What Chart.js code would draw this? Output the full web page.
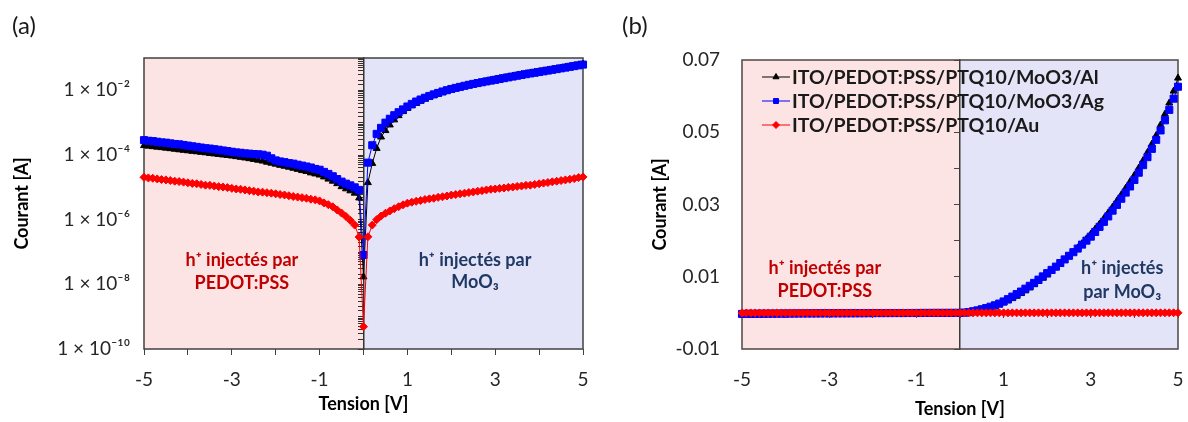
<!DOCTYPE html>
<html>
<head>
<meta charset="utf-8">
<script src="https://cdn.jsdelivr.net/npm/chart.js@4.4.1/dist/chart.umd.min.js"></script>
<style>
  html, body { margin: 0; padding: 0; background: #fff; }
  #wrap { position: relative; width: 1188px; height: 422px; }
  .panel { position: absolute; top: 0; width: 594px; height: 422px; }
  #pa { left: 0; }
  #pb { left: 594px; }
  .tag { position: absolute; top: 13px; font: 24px Lato, "Noto Sans", sans-serif; line-height: 24px; color: #1a1a1a; }
</style>
</head>
<body>
<div id="wrap">
  <div class="panel" id="pa"><canvas id="chartA"></canvas></div>
  <div class="panel" id="pb"><canvas id="chartB"></canvas></div>
  <div class="tag" style="left:12px">(a)</div>
  <div class="tag" style="left:622px">(b)</div>
</div>
<script>
// tension (V), 0.1 V steps
const tension = [
  -5, -4.9, -4.8, -4.7, -4.6, -4.5, -4.4, -4.3, -4.2, -4.1,
  -4, -3.9, -3.8, -3.7, -3.6, -3.5, -3.4, -3.3, -3.2, -3.1,
  -3, -2.9, -2.8, -2.7, -2.6, -2.5, -2.4, -2.3, -2.2, -2.1,
  -2, -1.9, -1.8, -1.7, -1.6, -1.5, -1.4, -1.3, -1.2, -1.1,
  -1, -0.9, -0.8, -0.7, -0.6, -0.5, -0.4, -0.3, -0.2, -0.1,
  0,
  0.1, 0.2, 0.3, 0.4, 0.5, 0.6, 0.7, 0.8, 0.9, 1,
  1.1, 1.2, 1.3, 1.4, 1.5, 1.6, 1.7, 1.8, 1.9, 2,
  2.1, 2.2, 2.3, 2.4, 2.5, 2.6, 2.7, 2.8, 2.9, 3,
  3.1, 3.2, 3.3, 3.4, 3.5, 3.6, 3.7, 3.8, 3.9, 4,
  4.1, 4.2, 4.3, 4.4, 4.5, 4.6, 4.7, 4.8, 4.9, 5
];

// current (A) – ITO/PEDOT:PSS/PTQ10/MoO3/Al
const courantAl = [
  -1.95e-4, -1.88e-4, -1.81e-4, -1.75e-4, -1.69e-4, -1.63e-4, -1.57e-4, -1.51e-4, -1.45e-4, -1.40e-4,
  -1.35e-4, -1.30e-4, -1.26e-4, -1.21e-4, -1.17e-4, -1.12e-4, -1.08e-4, -1.04e-4, -1.00e-4, -9.7e-5,
  -9.3e-5, -8.9e-5, -8.5e-5, -8.1e-5, -7.7e-5, -7.3e-5, -6.9e-5, -6.5e-5, -6.0e-5, -5.6e-5,
  -5.2e-5, -4.8e-5, -4.5e-5, -4.2e-5, -3.9e-5, -3.6e-5, -3.3e-5, -3.1e-5, -2.8e-5, -2.6e-5,
  -2.4e-5, -2.1e-5, -1.8e-5, -1.55e-5, -1.3e-5, -1.05e-5, -9.0e-6, -7.8e-6, -6.6e-6, -4.7e-6,
  1.7e-8,
  1.4e-5, 5.5e-5, 1.6e-4, 3.6e-4, 5.7e-4, 8.5e-4, 1.22e-3, 1.65e-3, 2.2e-3, 2.75e-3,
  3.3e-3, 3.95e-3, 4.6e-3, 5.35e-3, 6.1e-3, 6.9e-3, 7.8e-3, 8.7e-3, 9.6e-3, 0.0105,
  0.0115, 0.0125, 0.0135, 0.0146, 0.0157, 0.0168, 0.0180, 0.0192, 0.0205, 0.0218,
  0.0232, 0.0246, 0.0261, 0.0277, 0.0293, 0.0310, 0.0327, 0.0345, 0.0363, 0.0381,
  0.0401, 0.0422, 0.0444, 0.0467, 0.0491, 0.0520, 0.0550, 0.0581, 0.0614, 0.0650
];

// current (A) – ITO/PEDOT:PSS/PTQ10/MoO3/Ag
const courantAg = [
  -2.88e-4, -2.75e-4, -2.69e-4, -2.57e-4, -2.45e-4, -2.40e-4, -2.29e-4, -2.19e-4, -2.14e-4, -2.04e-4,
  -1.95e-4, -1.86e-4, -1.78e-4, -1.70e-4, -1.62e-4, -1.58e-4, -1.51e-4, -1.45e-4, -1.38e-4, -1.32e-4,
  -1.26e-4, -1.20e-4, -1.17e-4, -1.12e-4, -1.10e-4, -1.07e-4, -1.05e-4, -1.02e-4, -9.5e-5, -7.9e-5,
  -6.8e-5, -6.3e-5, -6.0e-5, -5.6e-5, -5.4e-5, -5.0e-5, -4.7e-5, -4.4e-5, -4.1e-5, -3.7e-5,
  -3.5e-5, -3.0e-5, -2.6e-5, -2.2e-5, -1.8e-5, -1.5e-5, -1.3e-5, -1.15e-5, -1.0e-5, -8.3e-6,
  8.1e-8,
  5.8e-5, 2.0e-4, 4.5e-4, 6.9e-4, 1.0e-3, 1.32e-3, 1.7e-3, 2.1e-3, 2.57e-3, 3.16e-3,
  3.8e-3, 4.5e-3, 5.2e-3, 5.9e-3, 6.7e-3, 7.5e-3, 8.3e-3, 9.2e-3, 0.0101, 0.0110,
  0.0119, 0.0128, 0.0138, 0.0148, 0.0158, 0.0168, 0.0178, 0.0189, 0.0200, 0.0211,
  0.0224, 0.0238, 0.0252, 0.0267, 0.0283, 0.0299, 0.0316, 0.0333, 0.0350, 0.0368,
  0.0388, 0.0409, 0.0431, 0.0454, 0.0479, 0.0505, 0.0533, 0.0562, 0.0593, 0.0626
];

// current (A) – ITO/PEDOT:PSS/PTQ10/Au
const courantAu = [
  -2.04e-5, -1.95e-5, -1.91e-5, -1.82e-5, -1.74e-5, -1.70e-5, -1.62e-5, -1.55e-5, -1.51e-5, -1.45e-5,
  -1.38e-5, -1.32e-5, -1.29e-5, -1.23e-5, -1.17e-5, -1.15e-5, -1.10e-5, -1.05e-5, -1.02e-5, -9.8e-6,
  -9.3e-6, -8.9e-6, -8.7e-6, -8.3e-6, -7.9e-6, -7.6e-6, -7.2e-6, -7.1e-6, -6.8e-6, -6.6e-6,
  -6.3e-6, -6.0e-6, -5.8e-6, -5.5e-6, -5.2e-6, -5.0e-6, -4.8e-6, -4.6e-6, -4.3e-6, -4.1e-6,
  -3.8e-6, -3.3e-6, -2.9e-6, -2.5e-6, -2.0e-6, -1.6e-6, -1.26e-6, -9.5e-7, -6.8e-7, -2.9e-7,
  4.9e-10,
  2.95e-7, 6.8e-7, 1.0e-6, 1.29e-6, 1.58e-6, 1.86e-6, 2.19e-6, 2.51e-6, 2.88e-6, 3.24e-6,
  3.47e-6, 3.7e-6, 3.9e-6, 4.2e-6, 4.4e-6, 4.6e-6, 4.9e-6, 5.1e-6, 5.4e-6, 5.75e-6,
  6.0e-6, 6.3e-6, 6.6e-6, 6.9e-6, 7.2e-6, 7.6e-6, 7.9e-6, 8.3e-6, 8.7e-6, 8.9e-6,
  9.3e-6, 9.5e-6, 1.0e-5, 1.02e-5, 1.07e-5, 1.10e-5, 1.15e-5, 1.17e-5, 1.23e-5, 1.29e-5,
  1.35e-5, 1.41e-5, 1.48e-5, 1.55e-5, 1.62e-5, 1.70e-5, 1.78e-5, 1.86e-5, 2.0e-5, 2.1e-5
];

const seriesLabels = ['ITO/PEDOT:PSS/PTQ10/MoO3/Al', 'ITO/PEDOT:PSS/PTQ10/MoO3/Ag', 'ITO/PEDOT:PSS/PTQ10/Au'];

// tick labels
const voltTicks = [-5, -3, -1, 1, 3, 5];
const voltTickLabels = ['-5', '-3', '-1', '1', '3', '5'];
const logTicks = [1e-10, 1e-8, 1e-6, 1e-4, 1e-2];
const logTickLabels = ['1 × 10⁻¹⁰', '1 × 10⁻⁸', '1 × 10⁻⁶', '1 × 10⁻⁴', '1 × 10⁻²'];
const linTicks = [-0.01, 0.01, 0.03, 0.05, 0.07];
const linTickLabels = ['-0.01', '0.01', '0.03', '0.05', '0.07'];

// region notes
const notePedot = ['h⁺ injectés par', 'PEDOT:PSS'];
const noteMoO3A = ['h⁺ injectés par', 'MoO₃'];
const noteMoO3B = ['h⁺ injectés', 'par MoO₃'];

// ---- styling ----
const FONT = 'Lato, "Noto Sans", sans-serif';
Chart.defaults.font.family = FONT;
const TICK = '#262626';
const RED_TXT = '#c00000';
const BLUE_TXT = '#1f3864';
const PINK = '#fce4e4';
const LAVENDER = '#e4e4f8';
const colors = ['#000000', '#0000ff', '#ff0000'];
const markers = ['triangle', 'rect', 'rectRot'];
const radii = [4, 5, 4];
const drawOrder = [3, 2, 1];
const currents = [courantAl, courantAg, courantAu];

function makeDatasets(fn) {
  return currents.map((c, i) => ({
    label: seriesLabels[i],
    data: tension.map((v, k) => ({x: v, y: fn(c[k])})),
    borderColor: colors[i],
    backgroundColor: colors[i],
    borderWidth: 1,
    pointStyle: markers[i],
    pointRadius: radii[i],
    pointBorderWidth: 1,
    order: drawOrder[i],
    clip: false,
    xAxisID: 'x',
    yAxisID: 'y'
  }));
}

const decor = {
  id: 'decor',
  beforeDraw(chart, args, opts) {
    const {ctx, chartArea: a, scales} = chart;
    const x0 = scales.x.getPixelForValue(0);
    ctx.save();
    ctx.fillStyle = PINK;
    ctx.fillRect(a.left, a.top, x0 - a.left, a.bottom - a.top);
    ctx.fillStyle = LAVENDER;
    ctx.fillRect(x0, a.top, a.right - x0, a.bottom - a.top);
    ctx.restore();
  },
  beforeDatasetsDraw(chart, args, opts) {
    const {ctx, chartArea: a} = chart;
    ctx.save();
    ctx.strokeStyle = opts.frame;
    ctx.lineWidth = 1.5;
    ctx.strokeRect(a.left, a.top, a.right - a.left, a.bottom - a.top);
    ctx.restore();
  },
  afterDraw(chart, args, opts) {
    const {ctx, chartArea: a, scales} = chart;
    ctx.save();
    ctx.font = 'bold 18px ' + FONT;
    ctx.textAlign = 'center';
    ctx.textBaseline = 'middle';
    (opts.notes || []).forEach(n => {
      ctx.fillStyle = n.color;
      const px = scales.x.getPixelForValue(n.x);
      n.lines.forEach((t, j) => ctx.fillText(t, px, scales.y.getPixelForValue(n.y[j])));
    });
    if (opts.legend) {
      ctx.font = 'bold 19.5px ' + FONT;
      ctx.textAlign = 'left';
      chart.data.datasets.forEach((ds, i) => {
        const yy = a.top + 17 + i * 24;
        ctx.strokeStyle = ds.borderColor;
        ctx.lineWidth = 1;
        ctx.beginPath();
        ctx.moveTo(a.left + 20, yy);
        ctx.lineTo(a.left + 48, yy);
        ctx.stroke();
        ctx.fillStyle = ds.backgroundColor;
        Chart.helpers.drawPoint(ctx, {pointStyle: ds.pointStyle, radius: 3.5, borderWidth: 1, rotation: 0}, a.left + 34, yy);
        ctx.fillStyle = '#1a1a1a';
        ctx.fillText(ds.label, a.left + 50, yy + 1);
      });
    }
    ctx.restore();
  }
};

const titleFont = {size: 18, weight: 'bold'};
const tickFont = {size: 19};

// ---- (a) log scale ----
new Chart(document.getElementById('chartA'), {
  type: 'line',
  data: {datasets: makeDatasets(v => Math.abs(v))},
  plugins: [decor],
  options: {
    responsive: true,
    maintainAspectRatio: false,
    animation: false,
    layout: {padding: {top: 58, right: 11, left: 0, bottom: 0}},
    plugins: {
      legend: {display: false},
      tooltip: {enabled: false},
      decor: {
        frame: '#404040',
        notes: [
          {x: -2.77, y: [5.6e-8, 1.1e-8], lines: notePedot, color: RED_TXT},
          {x: 2.54, y: [5.6e-8, 1.15e-8], lines: noteMoO3A, color: BLUE_TXT}
        ]
      }
    },
    scales: {
      x: {
        type: 'linear', min: -5, max: 5, position: 'bottom',
        afterFit: s => { s.height = 73; },
        ticks: {
          stepSize: 1, autoSkip: false, maxRotation: 0, padding: 0, color: TICK,
          font: {size: 19, lineHeight: 2.63},
          callback: v => { const i = voltTicks.indexOf(v); return i >= 0 ? voltTickLabels[i] : ''; }
        },
        grid: {drawOnChartArea: false, drawTicks: true, tickLength: 6, color: '#404040'},
        border: {display: false},
        title: {display: true, text: 'Tension [V]', color: '#000', font: titleFont, padding: {top: 0, bottom: 7}}
      },
      y: {
        type: 'logarithmic', min: 1e-10, max: 1e-1, position: 'left',
        afterFit: s => { s.width = 144; },
        afterBuildTicks: s => { s.ticks = logTicks.map(v => ({value: v})); },
        ticks: {
          autoSkip: false, padding: 14, color: TICK, font: tickFont,
          callback: v => { const i = logTicks.indexOf(v); return i >= 0 ? logTickLabels[i] : ''; }
        },
        grid: {display: false, drawTicks: false},
        border: {display: false},
        title: {display: true, text: 'Courant [A]', color: '#000', font: titleFont, padding: {top: 11, bottom: 0}}
      },
      yMid: {
        axis: 'y', type: 'logarithmic', min: 1e-10, max: 1e-1, position: {x: 0},
        ticks: {display: false},
        grid: {drawOnChartArea: false, drawTicks: true, tickLength: 5, color: '#333333'},
        border: {display: true, color: '#333333', width: 1.5}
      }
    }
  }
});

// ---- (b) linear scale ----
new Chart(document.getElementById('chartB'), {
  type: 'line',
  data: {datasets: makeDatasets(v => v)},
  plugins: [decor],
  options: {
    responsive: true,
    maintainAspectRatio: false,
    animation: false,
    layout: {padding: {top: 60, right: 10, left: 0, bottom: 0}},
    plugins: {
      legend: {display: false},
      tooltip: {enabled: false},
      decor: {
        frame: '#504545',
        legend: true,
        notes: [
          {x: -3.1, y: [0.0124, 0.0060], lines: notePedot, color: RED_TXT},
          {x: 3.72, y: [0.0124, 0.0058], lines: noteMoO3B, color: BLUE_TXT}
        ]
      }
    },
    scales: {
      x: {
        type: 'linear', min: -5, max: 5, position: 'bottom',
        afterFit: s => { s.height = 73; },
        afterBuildTicks: s => { s.ticks = voltTicks.map(v => ({value: v})); },
        ticks: {
          autoSkip: false, maxRotation: 0, padding: 0, color: TICK,
          font: {size: 19, lineHeight: 3.26},
          callback: v => { const i = voltTicks.indexOf(v); return i >= 0 ? voltTickLabels[i] : ''; }
        },
        grid: {display: false, drawTicks: false},
        border: {display: false},
        title: {display: true, text: 'Tension [V]', color: '#000', font: titleFont, padding: {top: 0, bottom: 2}}
      },
      y: {
        type: 'linear', min: -0.01, max: 0.07, position: 'left',
        afterFit: s => { s.width = 148; },
        afterBuildTicks: s => { s.ticks = linTicks.map(v => ({value: v})); },
        ticks: {
          autoSkip: false, padding: 22, color: TICK, font: tickFont,
          callback: v => { const i = linTicks.indexOf(v); return i >= 0 ? linTickLabels[i] : ''; }
        },
        grid: {display: false, drawTicks: false},
        border: {display: false},
        title: {display: true, text: 'Courant [A]', color: '#000', font: titleFont, padding: {top: 55, bottom: 0}}
      },
      xMid: {
        axis: 'x', type: 'linear', min: -5, max: 5, position: {y: 0},
        ticks: {display: false, stepSize: 1},
        grid: {drawOnChartArea: false, drawTicks: true, tickLength: 5, color: '#504545'},
        border: {display: true, color: '#504545', width: 1}
      },
      yMid: {
        axis: 'y', type: 'linear', min: -0.01, max: 0.07, position: {x: 0},
        ticks: {display: false, stepSize: 0.01},
        grid: {drawOnChartArea: false, drawTicks: true, tickLength: 5, color: '#504545'},
        border: {display: true, color: '#3a3a3a', width: 1.5}
      }
    }
  }
});
</script>
</body>
</html>
